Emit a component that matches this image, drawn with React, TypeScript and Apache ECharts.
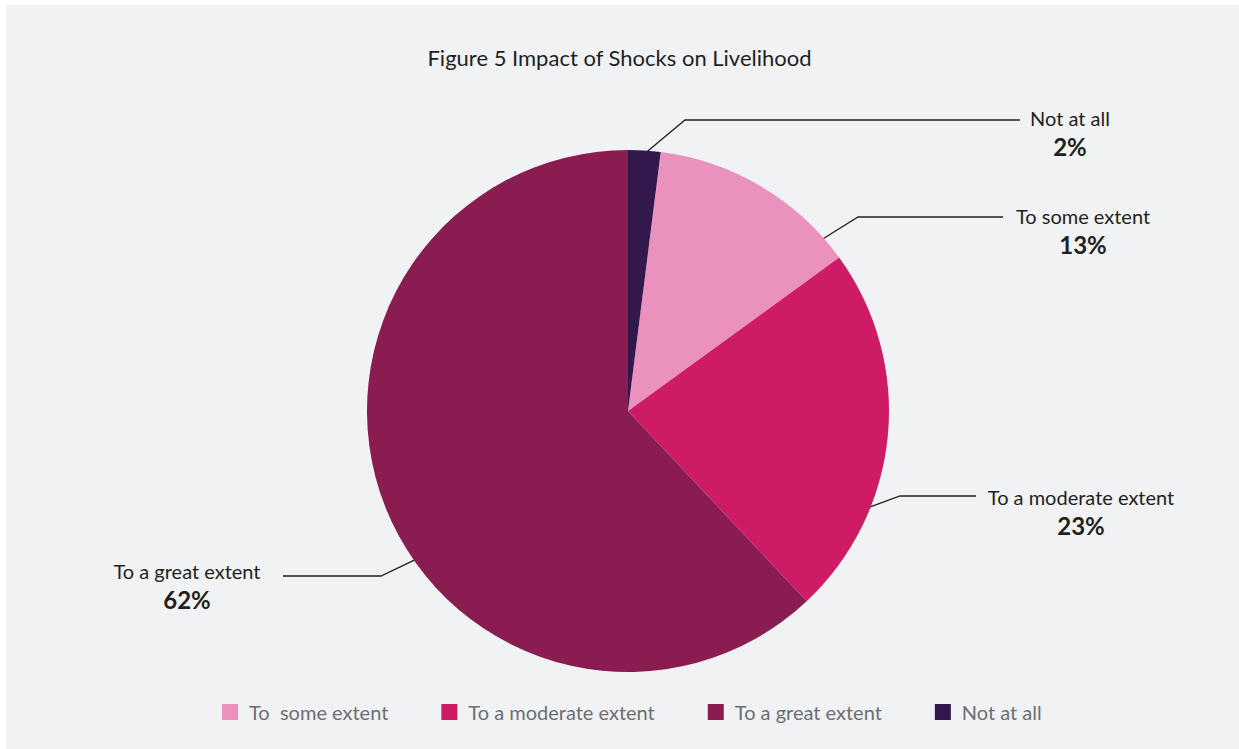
import React, { useEffect, useRef } from 'react';
import * as echarts from 'echarts';

const categories = ['To some extent', 'To a moderate extent', 'To a great extent', 'Not at all'];
const legendLabels = ['To  some extent', 'To a moderate extent', 'To a great extent', 'Not at all'];
const values = [13, 23, 62, 2];
const colors = ['#ea92bd', '#cd1b66', '#8b1c52', '#33184d'];
const titleText = 'Figure 5 Impact of Shocks on Livelihood';

// layout constants (pixels)
const CX = 628;
const CY = 411;
const R = 261;
// per-label leader geometry: start angle on the rim (deg), elbow point, end x, text centre
const leaders = [
  { a: 41.5, ex: 858, ey: 217, endX: 1003, tx: 1083, dy: 13 },
  { a: -22, ex: 900, ey: 496, endX: 976, tx: 1081, dy: 15 },
  { a: 215, ex: 381, ey: 576, endX: 283, tx: 187, dy: 9 },
  { a: 86.2, ex: 685, ey: 120, endX: 1020, tx: 1070, dy: 12 },
];

const FONT = 'Lato, "Noto Sans", sans-serif';
const DARK = '#231f20';

export default function App() {
  const ref = useRef<HTMLDivElement>(null);
  useEffect(() => {
    if (!ref.current) return;
    const chart = echarts.init(ref.current, null, { renderer: 'svg' });
    const total = values.reduce((s, v) => s + v, 0);
    chart.setOption({
      animation: false,
      backgroundColor: '#ffffff',
      graphic: [
        { type: 'rect', z: -10, shape: { x: 6, y: 5, width: 1239, height: 749 }, style: { fill: '#f1f2f4' } },
      ],
      title: {
        text: titleText,
        left: 'center',
        top: 41,
        textStyle: { fontFamily: FONT, fontSize: 22, fontWeight: 'normal', color: DARK },
      },
      legend: {
        bottom: 'auto',
        top: 697,
        left: 217,
        icon: 'rect',
        itemWidth: 16,
        itemHeight: 16,
        itemGap: 53,
        selectedMode: false,
        data: categories,
        formatter: (name: string) => legendLabels[categories.indexOf(name)],
        textStyle: { fontFamily: FONT, fontSize: 20, color: '#6d6e71', padding: [0, 0, 0, 6] },
      },
      series: [
        {
          type: 'pie',
          center: [CX, CY],
          radius: R,
          startAngle: 90 - (360 * values[3]) / total,
          clockwise: true,
          silent: true,
          emphasis: { disabled: true },
          data: categories.map((n, i) => ({ name: n, value: values[i], itemStyle: { color: colors[i] } })),
          label: {
            show: true,
            position: 'outside',
            formatter: '{n|{b}}\n{p|{c}%}',
            rich: {
              n: { fontFamily: FONT, fontSize: 20, color: DARK, lineHeight: 28, align: 'center' },
              p: { fontFamily: FONT, fontSize: 24, fontWeight: 'bold', color: DARK, lineHeight: 28, align: 'center' },
            },
          },
          labelLine: { show: true, length: 20, length2: 40, lineStyle: { color: DARK, width: 1.3 } },
          labelLayout: (p: any) => {
            const L = leaders[p.dataIndex];
            const rad = (L.a * Math.PI) / 180;
            const sx = CX + R * Math.cos(rad) * 0.99;
            const sy = CY - R * Math.sin(rad) * 0.99;
            return {
              x: L.tx,
              y: L.ey + L.dy,
              align: 'center',
              verticalAlign: 'middle',
              labelLinePoints: [
                [sx, sy],
                [L.ex, L.ey],
                [L.endX, L.ey],
              ],
            };
          },
        },
      ],
    });
    return () => chart.dispose();
  }, []);
  return (
    <div
      ref={ref}
      style={{ position: 'fixed', left: 0, top: 0, width: 1239, height: 749 }}
    />
  );
}
